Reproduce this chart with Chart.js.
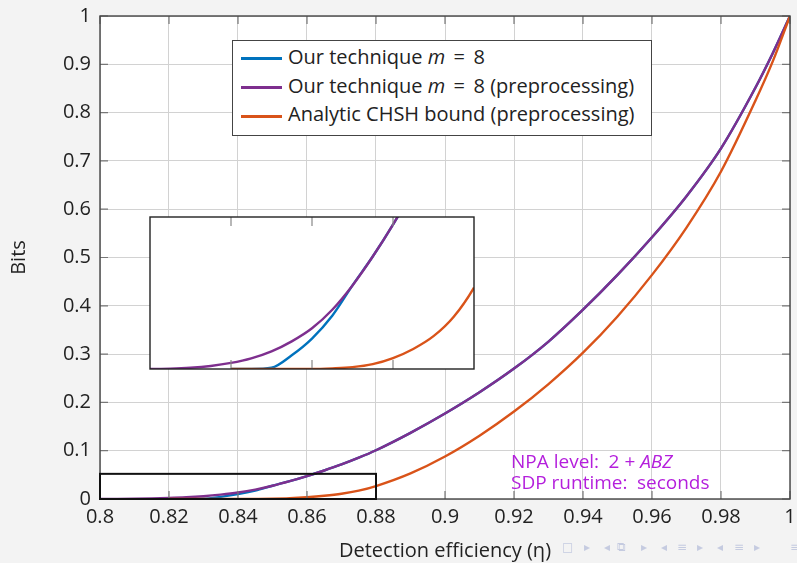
<!DOCTYPE html>
<html>
<head>
<meta charset="utf-8">
<script src="https://cdn.jsdelivr.net/npm/chart.js@4.4.0/dist/chart.umd.min.js"></script>
<style>
	html, body { margin: 0; padding: 0; background: #f3f3f3; }
	#wrap { position: relative; width: 797px; height: 563px; font-family: 'Open Sans', sans-serif; color: #222; }
	#main { position: absolute; left: 0; top: 0; }
	#inset { position: absolute; left: 148px; top: 215px; }
	#legend {
		position: absolute; left: 232px; top: 40px; width: 420px; height: 96px;
		border: 1.3px solid #444; background: #fff; padding-top: 2px; box-sizing: border-box;
	}
	#legend .row { height: 28.7px; line-height: 28.7px; font-size: 20px; white-space: nowrap; }
	#legend .swatch { display: inline-block; width: 41px; height: 3px; margin: 0 6px 0 8px; vertical-align: middle; }
	#npa { position: absolute; left: 511px; top: 451px; color: #b41fdc; font-size: 19px; line-height: 20.7px; white-space: nowrap; }
	#nav { position: absolute; top: 540px; left: 0; color: #c5cbe0; font-family: 'DejaVu Sans', sans-serif; font-size: 12px; }
	#nav span { position: absolute; }
</style>
</head>
<body>
<div id="wrap">
	<canvas id="main" width="797" height="563"></canvas>
	<canvas id="inset" width="328" height="156"></canvas>
	<div id="legend"></div>
	<div id="npa">NPA level:&ensp;2 + <i>ABZ</i><br>SDP runtime:&ensp;seconds</div>
	<div id="nav"></div>
</div>
<script>
// detection efficiency samples
const eta = [0.80, 0.805, 0.81, 0.815, 0.82, 0.825, 0.83, 0.835, 0.84, 0.845,
	0.85, 0.855, 0.86, 0.865, 0.87, 0.875, 0.88, 0.89, 0.90, 0.91,
	0.92, 0.93, 0.94, 0.95, 0.96, 0.97, 0.98, 0.99, 0.995, 1.0];

// Our technique m = 8
const ourTech = [null, null, null, null, 0, 0, 0.0004, 0.0045, 0.010, 0.0175,
	0.0275, 0.037, 0.0475, 0.059, 0.0715, 0.0855, 0.101, 0.137, 0.177, 0.221,
	0.270, 0.326, 0.392, 0.464, 0.542, 0.627, 0.726, 0.852, 0.923, 1.0];

// Our technique m = 8 (preprocessing)
const ourTechPre = [0, 0.0001, 0.0004, 0.001, 0.002, 0.0035, 0.0058, 0.0091, 0.0134, 0.0195,
	0.0275, 0.037, 0.0475, 0.059, 0.0715, 0.0855, 0.101, 0.137, 0.177, 0.221,
	0.270, 0.326, 0.392, 0.464, 0.542, 0.627, 0.726, 0.852, 0.923, 1.0];

// Analytic CHSH bound (preprocessing)
const chshPre = [null, null, null, null, 0, 0, 0, 0, 0, 0.0002,
	0.0006, 0.0016, 0.0036, 0.0066, 0.0108, 0.0172, 0.0268, 0.053, 0.088, 0.131,
	0.181, 0.238, 0.303, 0.378, 0.464, 0.562, 0.678, 0.825, 0.906, 1.0];

const seriesLabels = ['Our technique m = 8', 'Our technique m = 8 (preprocessing)', 'Analytic CHSH bound (preprocessing)'];
const seriesColors = ['#0072bd', '#7e2f8e', '#d95319'];

const xTicks = [0.8, 0.82, 0.84, 0.86, 0.88, 0.9, 0.92, 0.94, 0.96, 0.98, 1];
const yTicks = [0, 0.1, 0.2, 0.3, 0.4, 0.5, 0.6, 0.7, 0.8, 0.9, 1];

// zoomed region (shown in the inset)
const zoomX = [0.8, 0.88];
const zoomY = [0, 0.05];
const insetTicks = [0.82, 0.84, 0.86];

const FONT = "'Open Sans', sans-serif";

function makeDatasets() {
	const series = [ourTech, ourTechPre, chshPre];
	return series.map((s, i) => ({
		label: seriesLabels[i],
		data: eta.map((x, j) => ({ x: x, y: s[j] })),
		borderColor: seriesColors[i],
		borderWidth: 2.4,
		pointRadius: 0,
		cubicInterpolationMode: 'monotone',
		spanGaps: false,
		order: 3 - i,
	}));
}

function fmt(v) {
	return String(Number(v.toFixed(2)));
}

// white plot area
const plotBackground = {
	id: 'plotBackground',
	beforeDraw(chart) {
		const a = chart.chartArea;
		const ctx = chart.ctx;
		ctx.save();
		ctx.fillStyle = '#fff';
		ctx.fillRect(a.left, a.top, a.right - a.left, a.bottom - a.top);
		ctx.restore();
	},
};

// axis box, inward ticks, zoom rectangle
const mainFrame = {
	id: 'mainFrame',
	afterDatasetsDraw(chart) {
		const a = chart.chartArea;
		const ctx = chart.ctx;
		const xs = chart.scales.x;
		const ys = chart.scales.y;
		ctx.save();
		ctx.strokeStyle = '#777';
		ctx.lineWidth = 1.2;
		ctx.beginPath();
		xTicks.forEach((v) => {
			const px = xs.getPixelForValue(v);
			ctx.moveTo(px, a.bottom); ctx.lineTo(px, a.bottom - 8);
			ctx.moveTo(px, a.top); ctx.lineTo(px, a.top + 8);
		});
		yTicks.forEach((v) => {
			const py = ys.getPixelForValue(v);
			ctx.moveTo(a.left, py); ctx.lineTo(a.left + 8, py);
			ctx.moveTo(a.right, py); ctx.lineTo(a.right - 8, py);
		});
		ctx.stroke();

		ctx.strokeStyle = '#444';
		ctx.lineWidth = 1.4;
		ctx.strokeRect(a.left, a.top, a.right - a.left, a.bottom - a.top);

		// zoom rectangle
		const x0 = xs.getPixelForValue(zoomX[0]);
		const x1 = xs.getPixelForValue(zoomX[1]);
		const y0 = ys.getPixelForValue(zoomY[0]);
		const y1 = ys.getPixelForValue(zoomY[1]);
		ctx.strokeStyle = '#111';
		ctx.lineWidth = 2;
		ctx.strokeRect(x0, y1 - 1, x1 - x0, y0 - y1 + 1);
		ctx.restore();
	},
};

const mainChart = new Chart(document.getElementById('main'), {
	type: 'line',
	data: { datasets: makeDatasets() },
	options: {
		responsive: false,
		animation: false,
		events: [],
		layout: { padding: { top: 16, right: 7, left: 0, bottom: 0 } },
		plugins: { legend: { display: false }, tooltip: { enabled: false } },
		scales: {
			x: {
				type: 'linear',
				min: 0.8,
				max: 1,
				afterBuildTicks: (scale) => { scale.ticks = xTicks.map((v) => ({ value: v })); },
				afterFit: (scale) => { scale.height = 64; scale.paddingLeft = 0; scale.paddingRight = 0; },
				ticks: { padding: 6, color: '#222', font: { family: FONT, size: 20 }, callback: (v) => fmt(v), maxRotation: 0, autoSkip: false },
				grid: { color: '#d2d2d2', lineWidth: 1, drawTicks: false },
				border: { display: false },
				title: { display: true, text: 'Detection efficiency (η)', color: '#222', font: { family: FONT, size: 20 }, padding: { top: 0, bottom: 0 } },
			},
			y: {
				type: 'linear',
				min: 0,
				max: 1,
				afterBuildTicks: (scale) => { scale.ticks = yTicks.map((v) => ({ value: v })); },
				afterFit: (scale) => { scale.width = 100; scale.paddingTop = 0; scale.paddingBottom = 0; },
				ticks: { padding: 9, color: '#222', font: { family: FONT, size: 20 }, callback: (v) => fmt(v), autoSkip: false },
				grid: { color: '#d2d2d2', lineWidth: 1, drawTicks: false },
				border: { display: false },
				title: { display: true, text: 'Bits', color: '#222', font: { family: FONT, size: 20 }, padding: { top: 7, bottom: 0 } },
			},
		},
	},
	plugins: [plotBackground, mainFrame],
});

// inset frame with inward ticks
const insetFrame = {
	id: 'insetFrame',
	afterDatasetsDraw(chart) {
		const a = chart.chartArea;
		const ctx = chart.ctx;
		const xs = chart.scales.x;
		ctx.save();
		ctx.strokeStyle = '#888';
		ctx.lineWidth = 1.2;
		ctx.beginPath();
		insetTicks.forEach((v) => {
			const px = xs.getPixelForValue(v);
			ctx.moveTo(px, a.bottom); ctx.lineTo(px, a.bottom - 9);
			ctx.moveTo(px, a.top); ctx.lineTo(px, a.top + 9);
		});
		ctx.stroke();
		ctx.strokeStyle = '#222';
		ctx.lineWidth = 1.4;
		ctx.strokeRect(a.left, a.top, a.right - a.left, a.bottom - a.top);
		ctx.restore();
	},
};

const insetChart = new Chart(document.getElementById('inset'), {
	type: 'line',
	data: { datasets: makeDatasets() },
	options: {
		responsive: false,
		animation: false,
		events: [],
		layout: { padding: { top: 2, right: 2, left: 2, bottom: 2 } },
		plugins: { legend: { display: false }, tooltip: { enabled: false } },
		scales: {
			x: { type: 'linear', min: zoomX[0], max: zoomX[1], display: false },
			y: { type: 'linear', min: zoomY[0], max: zoomY[1], display: false },
		},
	},
	plugins: [plotBackground, insetFrame],
});

// legend built from the series
const legend = document.getElementById('legend');
seriesLabels.forEach((label, i) => {
	const row = document.createElement('div');
	row.className = 'row';
	const sw = document.createElement('span');
	sw.className = 'swatch';
	sw.style.background = seriesColors[i];
	row.appendChild(sw);
	const txt = document.createElement('span');
	txt.innerHTML = label.replace(' m = ', ' <i>m</i>&thinsp; = &thinsp;');
	row.appendChild(txt);
	legend.appendChild(row);
});

// beamer navigation symbols
const navSymbols = [['□', 562], ['▸', 584], ['◂', 604], ['⧉', 617], ['▸', 641], ['◂', 661], ['≡', 677], ['▸', 697], ['◂', 717], ['≡', 734], ['▸', 754], ['≡', 790]];
const nav = document.getElementById('nav');
navSymbols.forEach(([s, x]) => {
	const sp = document.createElement('span');
	sp.textContent = s;
	sp.style.left = x + 'px';
	nav.appendChild(sp);
});
</script>
</body>
</html>
